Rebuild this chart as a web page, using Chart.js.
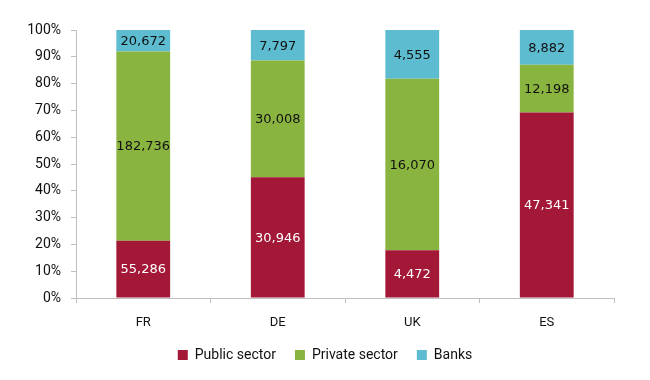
<!DOCTYPE html>
<html>
<head>
<meta charset="utf-8">
<script src="https://cdn.jsdelivr.net/npm/chart.js@4/dist/chart.umd.min.js"></script>
<style>
html,body{margin:0;padding:0;background:#fff;}
#wrap{width:650px;height:380px;}
</style>
</head>
<body>
<div id="wrap"><canvas id="c" width="650" height="380"></canvas></div>
<script>
const categories = ["FR", "DE", "UK", "ES"];
const publicSector = [55286, 30946, 4472, 47341];
const privateSector = [182736, 30008, 16070, 12198];
const banks = [20672, 7797, 4555, 8882];
const yTicks = [0, 10, 20, 30, 40, 50, 60, 70, 80, 90, 100];

const totals = categories.map((_, i) => publicSector[i] + privateSector[i] + banks[i]);
const share = arr => arr.map((v, i) => v / totals[i] * 100);

const series = [
  { label: "Public sector", raw: publicSector, color: "#A31737", text: "#ffffff" },
  { label: "Private sector", raw: privateSector, color: "#8AB440", text: "#111111" },
  { label: "Banks", raw: banks, color: "#5DBCD0", text: "#111111" }
];

const labelPlugin = {
  id: "segLabels",
  afterDatasetsDraw(chart) {
    const ctx = chart.ctx;
    ctx.save();
    ctx.font = "13px 'DejaVu Sans'";
    ctx.textAlign = "center";
    ctx.textBaseline = "middle";
    chart.data.datasets.forEach((ds, di) => {
      const meta = chart.getDatasetMeta(di);
      meta.data.forEach((bar, i) => {
        const y = (bar.y + bar.base) / 2;
        ctx.fillStyle = series[di].text;
        ctx.fillText(series[di].raw[i].toLocaleString("en-US"), bar.x, y + 1);
      });
    });
    ctx.restore();
  }
};

new Chart(document.getElementById("c"), {
  type: "bar",
  data: {
    labels: categories,
    datasets: series.map(s => ({
      label: s.label,
      data: share(s.raw),
      backgroundColor: s.color,
      borderWidth: 0,
      barPercentage: 0.4,
      categoryPercentage: 1.0
    }))
  },
  options: {
    responsive: false,
    animation: false,
    devicePixelRatio: 1,
    layout: { padding: { left: 0, right: 0, top: 30, bottom: 8 } },
    plugins: {
      legend: {
        position: "bottom",
        labels: {
          boxWidth: 10, boxHeight: 10, padding: 19,
          color: "#111",
          font: { family: "Roboto", size: 14 }
        }
      },
      tooltip: { enabled: false }
    },
    scales: {
      x: {
        stacked: true,
        grid: { display: true, drawOnChartArea: false, tickLength: 5, color: "#BFBFBF", offset: true },
        border: { color: "#BFBFBF", width: 1 },
        ticks: { color: "#111", font: { family: "Roboto", size: 13 }, padding: 12 },
        afterFit(s) { s.height = 31; }
      },
      y: {
        stacked: true,
        min: 0, max: 100,
        afterBuildTicks(s) { s.ticks = yTicks.map(v => ({ value: v })); },
        grid: { display: true, drawOnChartArea: false, tickLength: 5, color: "#BFBFBF" },
        border: { color: "#BFBFBF", width: 1 },
        ticks: {
          color: "#111", font: { family: "Roboto", size: 14 }, padding: 10,
          callback: v => v + "%"
        },
        afterFit(s) { s.width = 76; }
      },
      yRight: {
        position: "right",
        min: 0, max: 100,
        grid: { display: false },
        border: { display: false },
        ticks: { display: false },
        afterFit(s) { s.width = 36; }
      }
    }
  },
  plugins: [labelPlugin]
});
</script>
</body>
</html>
